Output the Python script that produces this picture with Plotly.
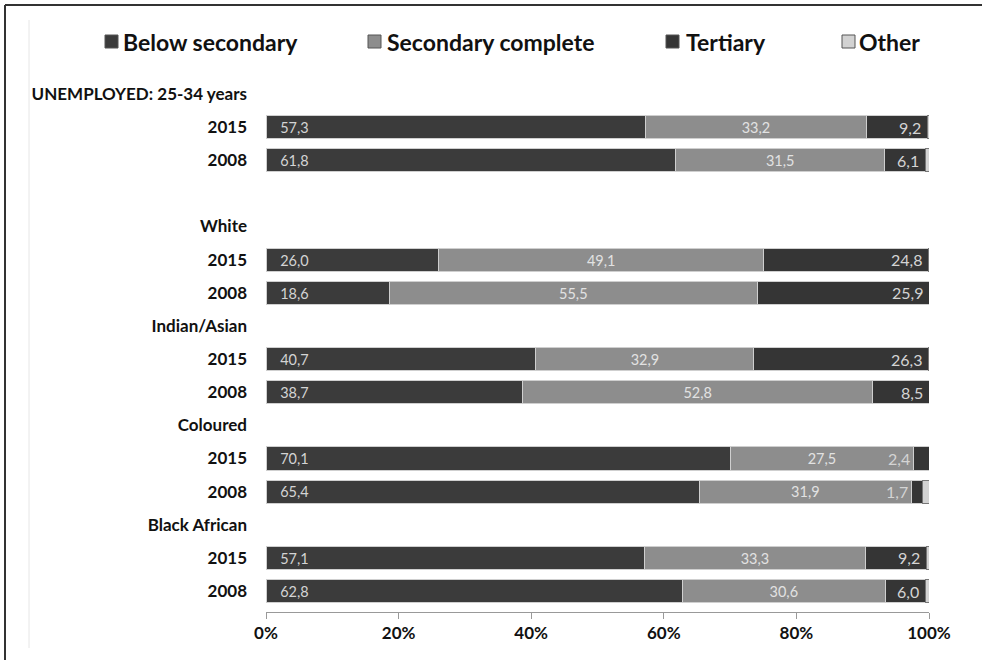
import plotly.graph_objects as go

# Row labels on the category axis (top to bottom); blank/heading rows carry no bars
row_labels = ["UNEMPLOYED: 25-34 years", "2015", "2008", "", "White", "2015", "2008",
              "Indian/Asian", "2015", "2008", "Coloured", "2015", "2008",
              "Black African", "2015", "2008"]
bar_rows = [1, 2, 5, 6, 8, 9, 11, 12, 14, 15]

# Shares (%) by highest level of education
below_secondary = [57.3, 61.8, 26.0, 18.6, 40.7, 38.7, 70.1, 65.4, 57.1, 62.8]
secondary_complete = [33.2, 31.5, 49.1, 55.5, 32.9, 52.8, 27.5, 31.9, 33.3, 30.6]
tertiary = [9.2, 6.1, 24.8, 25.9, 26.3, 8.5, 2.4, 1.7, 9.2, 6.0]
other = [0.3, 0.6, 0.1, 0.0, 0.1, 0.0, 0.0, 1.0, 0.4, 0.6]

series_names = ["Below secondary", "Secondary complete", "Tertiary", "Other"]
x_ticks = [0, 20, 40, 60, 80, 100]

colors = {"Below secondary": "#3b3b3b", "Secondary complete": "#8d8d8d",
          "Tertiary": "#353535", "Other": "#d2d2d2"}

FONT = "Lato"
W, H = 982, 660
L, R, T, B = 266, 929, 77, 612


def px(x):
    return (x - L) / (R - L)


def py(y):
    return (B - y) / (B - T)


fig = go.Figure()
NB = "\u00a0\u00a0\u00a0"
fig.add_trace(go.Bar(
    y=bar_rows, x=below_secondary, orientation="h", name=series_names[0],
    marker=dict(color=colors["Below secondary"], line=dict(color="#cfcfcf", width=1)),
    texttemplate=NB + "%{x:.1f}", textposition="inside", insidetextanchor="start",
    textfont=dict(family=FONT, size=16, color="#d4d4d4"), width=0.7,
))
fig.add_trace(go.Bar(
    y=bar_rows, x=secondary_complete, orientation="h", name=series_names[1],
    marker=dict(color=colors["Secondary complete"], line=dict(color="#cfcfcf", width=1)),
    texttemplate="%{x:.1f}", textposition="inside", insidetextanchor="middle",
    textfont=dict(family=FONT, size=16, color="#e2e2e2"), width=0.7,
))
fig.add_trace(go.Bar(
    y=bar_rows, x=tertiary, orientation="h", name=series_names[2],
    marker=dict(color=colors["Tertiary"], line=dict(color="#cfcfcf", width=1)),
    width=0.7,
))
fig.add_trace(go.Bar(
    y=bar_rows, x=other, orientation="h", name=series_names[3],
    marker=dict(color=colors["Other"], line=dict(color="#777777", width=1)),
    width=0.7,
))

# Tertiary value labels: right-aligned at the segment end, or just left of
# the segment when it is too narrow to hold the number
for row, b, s, t in zip(bar_rows, below_secondary, secondary_complete, tertiary):
    label = f"{t:.1f}".replace(".", ",")
    if t >= 4:
        xa, shift = b + s + t, -4
    else:
        xa, shift = b + s, -1
    fig.add_annotation(x=xa, y=row, xref="x", yref="y", text=label, showarrow=False,
                       xanchor="right", yanchor="middle", xshift=shift,
                       font=dict(family=FONT, size=16, color="#d4d4d4"))

# Legend drawn along the top
legend_items = [(105, 121, series_names[0]), (368, 385, series_names[1]),
                (666, 684, series_names[2]), (842, 857, series_names[3])]
for sx, tx, name in legend_items:
    fig.add_shape(type="rect", xref="paper", yref="paper",
                  x0=px(sx), x1=px(sx + 13), y0=py(48), y1=py(35),
                  fillcolor=colors[name], line=dict(color="#555555", width=1))
    fig.add_annotation(x=px(tx), y=py(42), xref="paper", yref="paper", text=name,
                       showarrow=False, xanchor="left", yanchor="middle",
                       font=dict(family=FONT, size=23, color="#111111", weight="bold"))

# Frame lines
fig.add_shape(type="line", xref="paper", yref="paper", x0=px(5), x1=px(5),
              y0=py(5), y1=py(665), line=dict(color="#333333", width=2))
fig.add_shape(type="line", xref="paper", yref="paper", x0=px(5), x1=px(990),
              y0=py(5), y1=py(5), line=dict(color="#333333", width=2))
fig.add_shape(type="line", xref="paper", yref="paper", x0=px(29), x1=px(29),
              y0=py(20), y1=py(648), line=dict(color="#e6e6e6", width=1))

row_h = (591 - 94) / 15
fig.update_layout(
    width=W, height=H, barmode="stack", showlegend=False,
    separators=",.",
    paper_bgcolor="white", plot_bgcolor="white",
    margin=dict(l=L, r=W - R, t=T, b=H - B),
    xaxis=dict(range=[0, 100], tickvals=x_ticks, ticktext=[f"{v}%" for v in x_ticks],
               showgrid=False, zeroline=False, showline=True, linecolor="#999999",
               linewidth=1, ticks="outside", ticklen=6, tickcolor="#999999",
               tickfont=dict(family=FONT, size=17, color="#111111", weight="bold")),
    yaxis=dict(range=[15 + (B - 591) / row_h, -(94 - T) / row_h],
               tickvals=list(range(len(row_labels))), ticktext=row_labels,
               showgrid=False, zeroline=False, showline=False, ticks="",
               ticklabelstandoff=18,
               tickfont=dict(family=FONT, size=17, color="#111111", weight="bold")),
)

fig.write_html("out.html")
